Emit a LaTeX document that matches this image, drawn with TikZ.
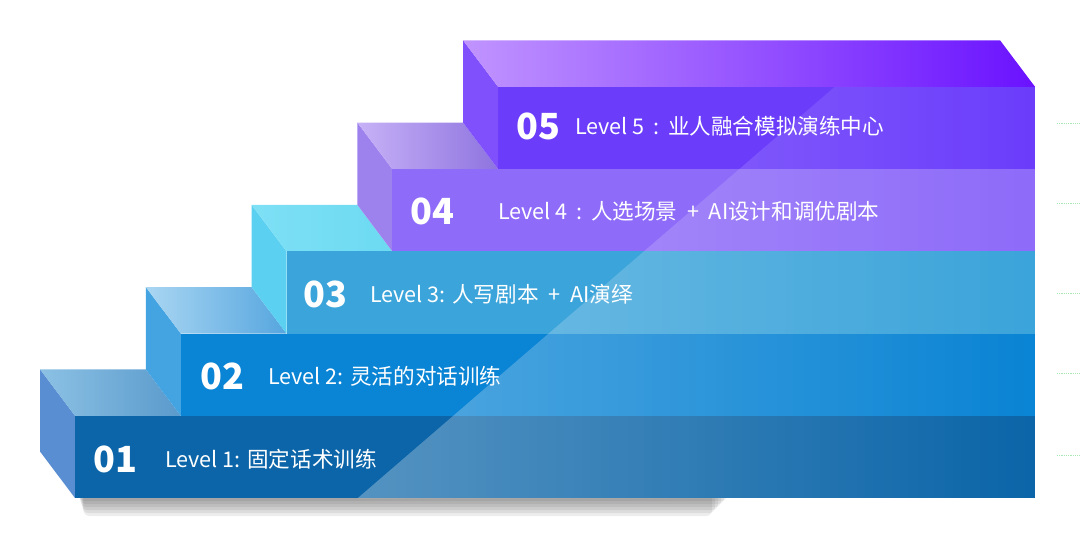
\documentclass[tikz,border=0pt]{standalone}
\usepackage{fontspec}
\usetikzlibrary{fadings}
\newfontfamily\cjk{Noto Sans CJK SC}

\definecolor{frontA}{HTML}{0B65A8}
\definecolor{frontB}{HTML}{0A84D4}
\definecolor{frontC}{HTML}{3BA4DA}
\definecolor{frontD}{HTML}{8E6BF9}
\definecolor{frontE}{HTML}{6B3DFB}
\definecolor{sideA}{HTML}{5A8ED2}
\definecolor{sideB}{HTML}{44A4E2}
\definecolor{sideC}{HTML}{5CD0F0}
\definecolor{sideD}{HTML}{9D82EE}
\definecolor{sideE}{HTML}{7F50FC}
\definecolor{topAl}{HTML}{8CC1E4}
\definecolor{topAr}{HTML}{5A9ACC}
\definecolor{topBl}{HTML}{AAD6F2}
\definecolor{topBr}{HTML}{56A6DF}
\definecolor{topCl}{HTML}{7EE0F5}
\definecolor{topCr}{HTML}{6CDAF2}
\definecolor{topDl}{HTML}{C7B2F7}
\definecolor{topDr}{HTML}{8E74DF}
\definecolor{topEl}{HTML}{C094FF}
\definecolor{topEr}{HTML}{6A12FF}
\definecolor{tickgreen}{HTML}{A8E8B4}

% #1 front left x, #2 front top y, #3 next step x, #4/#5 top colours, #6 side, #7 front
\newcommand{\drawstep}[7]{
	\pgfmathsetmacro{\stepbot}{#2 + 82.25}
	\pgfmathsetmacro{\stepbackx}{#1 - 35}
	\pgfmathsetmacro{\stepbacky}{#2 - 46.5}
	\pgfmathsetmacro{\stepnextx}{#3 - 35}
	\fill[#6] (\stepbackx,\stepbacky) -- (#1,#2) -- (#1,\stepbot) -- (\stepbackx,\stepbot-46.5) -- cycle;
	\shade[left color=#4, right color=#5] (\stepbackx,\stepbacky) -- (\stepnextx,\stepbacky) -- (#3,#2) -- (#1,#2) -- cycle;
	\fill[#7] (#1,#2) rectangle (1035,\stepbot);
}
\newcommand{\plus}{\hspace{0.45em}+\hspace{0.45em}}
\newcommand{\colonsp}{\hspace{0.4em}:\hspace{0.4em}}

\tikzset{
	numtext/.style={anchor=west, inner sep=0pt, text=white, font=\cjk\bfseries\fontsize{36}{36}\selectfont},
	leveltext/.style={anchor=west, inner sep=0pt, text=white, font=\cjk\fontsize{21.6}{22}\selectfont},
	tickline/.style={tickgreen, densely dotted, line width=0.8pt}
}

\begin{document}
\begin{tikzpicture}[x=1pt,y=-1pt]
	\useasboundingbox (0,0) rectangle (1080,536);

	% soft shadow under the lowest step
	\foreach \s in {3,6,...,18}
		\fill[black, opacity=0.07, rounded corners=6pt] (78+0.3*\s,490) rectangle (730-\s,498+\s);

	\drawstep{75}{415.75}{180.75}{topAl}{topAr}{sideA}{frontA}
	\drawstep{180.75}{333.5}{286.5}{topBl}{topBr}{sideB}{frontB}
	\drawstep{286.5}{251.25}{392.25}{topCl}{topCr}{sideC}{frontC}
	\drawstep{392.25}{169}{498}{topDl}{topDr}{sideD}{frontD}
	\drawstep{498}{86.75}{1035}{topEl}{topEr}{sideE}{frontE}

	% light glare across the fronts
	\fill[white, opacity=0.3, path fading=east] (358,498) -- (1035,498) -- (1035,86.75) -- (835,86.75) -- cycle;

	\node[numtext] (num1) at (93,459) {01};
	\node[leveltext] (lvl1) at (165,459) {Level 1: 固定话术训练};
	\node[numtext] (num2) at (200,376) {02};
	\node[leveltext] (lvl2) at (268,376) {Level 2: 灵活的对话训练};
	\node[numtext] (num3) at (303,294) {03};
	\node[leveltext] (lvl3) at (370,294) {Level 3: 人写剧本\plus AI演绎};
	\node[numtext] (num4) at (410,211) {04};
	\node[leveltext] (lvl4) at (498,211) {Level 4\colonsp 人选场景\plus AI设计和调优剧本};
	\node[numtext] (num5) at (516,126) {05};
	\node[leveltext] (lvl5) at (575,126) {Level 5\colonsp 业人融合模拟演练中心};

	\foreach \y in {123,203,293,373,455}
		\draw[tickline] (1057,\y) -- (1080,\y);
\end{tikzpicture}
\end{document}
